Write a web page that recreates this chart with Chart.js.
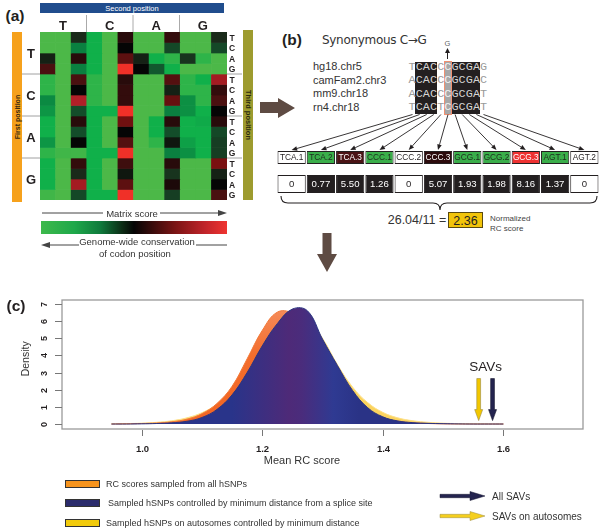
<!DOCTYPE html>
<html>
<head>
<meta charset="utf-8">
<title>RC score figure</title>
<script src="https://cdn.jsdelivr.net/npm/chart.js@4.4.1/dist/chart.umd.min.js"></script>
<style>
  html, body { margin: 0; padding: 0; background: #fff; }
  #fig { position: relative; width: 600px; height: 529px; overflow: hidden;
         font-family: "Liberation Sans", Arial, Helvetica, sans-serif; color: #231f20; }
  #fig canvas, #fig svg, #fig .t, #fig .b { position: absolute; }
  .t { white-space: nowrap; line-height: 1; }
  .b { box-sizing: border-box; }
  svg { pointer-events: none; }
</style>
</head>
<body>
<div id="fig">
  <canvas id="heat" width="187" height="168" style="left:40px;top:32px;width:187px;height:168px"></canvas>
  <canvas id="codons" width="322" height="42" style="left:277px;top:151px;width:322px;height:42px"></canvas>
  <canvas id="density" width="600" height="190" style="left:0;top:290px;width:600px;height:190px"></canvas>
</div>
<script>
"use strict";

// ---------- panel (a): codon position matrix ----------
var bases = ["T", "C", "A", "G"];
// matrix score 0 (green) .. 0.5 (black) .. 1 (red); rows = first x third position, cols = second position x codon position
var matrixScores = [
    [0.00, 0.00, 0.42, 0.10, 0.00, 0.56, 0.00, 0.00, 0.58, 0.00, 0.00, 0.42],
    [0.00, 0.00, 0.25, 0.10, 0.00, 0.50, 0.00, 0.00, 0.36, 0.00, 0.00, 0.36],
    [0.44, 0.00, 0.56, 0.10, 0.00, 0.66, 0.44, 0.10, 0.05, 0.40, 0.05, 0.00],
    [0.62, 0.00, 0.25, 0.10, 0.00, 1.00, 0.50, 0.33, 0.10, 0.00, 0.00, 0.00],
    [0.05, 0.00, 0.62, 0.05, 0.00, 0.56, 0.00, 0.00, 0.64, 0.05, 0.10, 0.82],
    [0.05, 0.00, 0.50, 0.05, 0.00, 0.58, 0.00, 0.00, 0.44, 0.05, 0.05, 0.58],
    [0.22, 0.00, 0.85, 0.05, 0.00, 0.58, 0.00, 0.00, 0.68, 0.20, 0.05, 0.62],
    [0.18, 0.00, 0.35, 0.10, 0.10, 1.00, 0.00, 0.00, 0.25, 0.20, 0.10, 0.50],
    [0.10, 0.00, 0.56, 0.10, 0.00, 0.70, 0.00, 0.10, 0.56, 0.10, 0.12, 0.56],
    [0.10, 0.00, 0.35, 0.10, 0.00, 0.50, 0.00, 0.10, 0.35, 0.10, 0.10, 0.36],
    [0.18, 0.00, 0.50, 0.10, 0.00, 0.64, 0.00, 0.05, 0.46, 0.15, 0.10, 0.38],
    [0.05, 0.02, 0.02, 0.10, 0.10, 1.00, 0.00, 0.00, 0.25, 0.20, 0.10, 0.38],
    [0.10, 0.00, 0.58, 0.10, 0.00, 0.60, 0.00, 0.00, 0.56, 0.00, 0.00, 0.72],
    [0.10, 0.00, 0.42, 0.10, 0.00, 0.46, 0.00, 0.00, 0.40, 0.00, 0.00, 0.44],
    [0.10, 0.00, 0.82, 0.10, 0.00, 0.66, 0.00, 0.00, 0.54, 0.00, 0.00, 0.50],
    [0.02, 0.00, 0.36, 0.10, 0.10, 1.00, 0.00, 0.00, 0.38, 0.00, 0.00, 0.62]
];

// ---------- panel (b): example SNP ----------
var species = ["hg18.chr5", "camFam2.chr3", "mm9.chr18", "rn4.chr18"];
var alignment = ["TCACCCGCGAG", "ACACCCGCGAC", "ACACCCGCGAT", "TCACTCGCGAT"];
var codonLabels = ["TCA.1", "TCA.2", "TCA.3", "CCC.1", "CCC.2", "CCC.3", "GCG.1", "GCG.2", "GCG.3", "AGT.1", "AGT.2"];
var codonScores = [0, 0.77, 5.50, 1.26, 0, 5.07, 1.93, 1.98, 8.16, 1.37, 0];
var codonFill = ["#ffffff", "#3aae4a", "#4a1315", "#3aae4a", "#ffffff", "#2c0b0c", "#3aae4a", "#3aae4a", "#ee3131", "#3aae4a", "#ffffff"];
var codonInk = ["#231f20", "#1e2a1e", "#ffffff", "#1e2a1e", "#231f20", "#ffffff", "#1e2a1e", "#1e2a1e", "#ffffff", "#1e2a1e", "#231f20"];

// ---------- panel (c): mean RC score densities ----------
var rcGrid = [0.95, 0.975, 1.0, 1.025, 1.05, 1.075, 1.1, 1.125, 1.15, 1.175, 1.2, 1.225, 1.25, 1.275,
              1.3, 1.325, 1.35, 1.375, 1.4, 1.425, 1.45, 1.475, 1.5, 1.525, 1.55, 1.575, 1.6];
var densAllSNPs = [0, 0.01, 0.03, 0.06, 0.13, 0.28, 0.6, 1.2, 2.2, 3.8, 5.45, 6.52, 6.45, 5.5,
                   4.0, 2.55, 1.45, 0.75, 0.36, 0.16, 0.07, 0.03, 0.01, 0, 0, 0, 0];
var densSpliceDist = [0, 0, 0.01, 0.03, 0.07, 0.16, 0.38, 0.85, 1.7, 3.0, 4.55, 5.85, 6.7, 6.6,
                      4.95, 3.4, 1.95, 0.95, 0.42, 0.18, 0.08, 0.04, 0.02, 0.008, 0, 0, 0];
var densAutosomes = [0.01, 0.025, 0.05, 0.1, 0.19, 0.36, 0.66, 1.15, 1.9, 3.0, 4.3, 5.5, 6.2, 6.1,
                     5.0, 3.45, 2.15, 1.25, 0.68, 0.36, 0.19, 0.1, 0.05, 0.025, 0.012, 0.006, 0.003];
var savMeans = [1.559, 1.582];          // SAVs on autosomes, all SAVs
var xTicks = [1.0, 1.2, 1.4, 1.6];
var yTicks = [0, 1, 2, 3, 4, 5, 6, 7];

var fig = document.getElementById("fig");
var FONT = "'Liberation Sans', Arial, sans-serif";

function addText(txt, x, y, css, anchor, rot) {
    var d = document.createElement("div");
    d.className = "t";
    d.textContent = txt;
    d.style.cssText = "left:" + x + "px;top:" + y + "px;" + (css || "");
    var tr = anchor === "start" ? "translate(0,-50%)" : "translate(-50%,-50%)";
    if (rot) tr += " rotate(" + rot + "deg)";
    d.style.transform = tr;
    fig.appendChild(d);
    return d;
}

function addBox(x, y, w, h, css) {
    var d = document.createElement("div");
    d.className = "b";
    d.style.cssText = "left:" + x + "px;top:" + y + "px;width:" + w + "px;height:" + h + "px;" + (css || "");
    fig.appendChild(d);
    return d;
}

// green - black - red ramp used by the matrix
var rampStops = [
    [0.00, [76, 184, 72]], [0.10, [16, 176, 74]], [0.25, [10, 128, 64]], [0.42, [26, 42, 26]],
    [0.50, [5, 5, 5]], [0.62, [74, 16, 16]], [0.72, [122, 16, 16]], [0.85, [176, 32, 40]], [1.00, [240, 48, 40]]
];
function rampColor(s) {
    for (var i = 1; i < rampStops.length; i++) {
        if (s <= rampStops[i][0]) {
            var a = rampStops[i - 1], b = rampStops[i];
            var f = (s - a[0]) / (b[0] - a[0]);
            var c = a[1].map(function (v, k) { return Math.round(v + (b[1][k] - v) * f); });
            return "rgb(" + c.join(",") + ")";
        }
    }
    return "rgb(240,48,40)";
}

// ---------- heatmap (stacked bars, one dataset per row) ----------
var heatColumns = [];
bases.forEach(function (b) { [1, 2, 3].forEach(function (k) { heatColumns.push(b + k); }); });

new Chart(document.getElementById("heat"), {
    type: "bar",
    data: {
        labels: heatColumns,
        datasets: matrixScores.map(function (row) {
            return { data: row.map(function () { return 1; }), backgroundColor: row.map(rampColor) };
        })
    },
    options: {
        responsive: false, animation: false, events: [],
        layout: { padding: 0 },
        plugins: { legend: { display: false }, tooltip: { enabled: false } },
        datasets: { bar: { barPercentage: 1, categoryPercentage: 1, borderWidth: 0 } },
        scales: {
            x: { display: false, stacked: true },
            y: { display: false, stacked: true, min: 0, max: 16, reverse: true }
        }
    }
});

// ---------- codon boxes (floating bars) ----------
var codonTextPlugin = {
    id: "codonText",
    afterDatasetsDraw: function (chart) {
        var ctx = chart.ctx;
        ctx.save();
        ctx.textAlign = "center";
        ctx.textBaseline = "middle";
        ctx.font = "8.3px " + FONT;
        chart.getDatasetMeta(0).data.forEach(function (bar, i) {
            ctx.fillStyle = codonInk[i];
            ctx.fillText(codonLabels[i], bar.x, (bar.y + bar.base) / 2 + 0.5);
        });
        ctx.font = "9.6px " + FONT;
        chart.getDatasetMeta(1).data.forEach(function (bar, i) {
            var v = codonScores[i];
            ctx.fillStyle = v === 0 ? "#231f20" : "#ffffff";
            ctx.fillText(v === 0 ? "0" : v.toFixed(2), bar.x, (bar.y + bar.base) / 2 + 0.5);
        });
        ctx.restore();
    }
};

var codonChart = new Chart(document.getElementById("codons"), {
    type: "bar",
    data: {
        labels: codonLabels,
        datasets: [
            { data: codonLabels.map(function () { return [0, 13]; }), backgroundColor: codonFill },
            { data: codonScores.map(function () { return [24, 42]; }),
              backgroundColor: codonScores.map(function (v) { return v === 0 ? "#ffffff" : "#231f20"; }) }
        ]
    },
    options: {
        responsive: false, animation: false, events: [],
        layout: { padding: 0 },
        plugins: { legend: { display: false }, tooltip: { enabled: false } },
        datasets: { bar: { barPercentage: 1, categoryPercentage: 0.965, grouped: false,
                           borderWidth: 1, borderColor: "#231f20", borderSkipped: false } },
        scales: {
            x: { display: false },
            y: { display: false, min: 0, max: 42, reverse: true }
        }
    },
    plugins: [codonTextPlugin]
});

// ---------- density chart ----------
var rAxesPlugin = {
    id: "rAxes",
    afterDraw: function (chart) {
        var ctx = chart.ctx, a = chart.chartArea, xs = chart.scales.x, ys = chart.scales.y;
        ctx.save();
        ctx.strokeStyle = "#9a9a9a";
        ctx.lineWidth = 1.3;
        ctx.strokeRect(a.left, a.top, a.right - a.left, a.bottom - a.top);

        ctx.strokeStyle = "#777";
        ctx.lineWidth = 1;
        ctx.fillStyle = "#231f20";
        ctx.font = "bold 9.5px " + FONT;
        ctx.textAlign = "center";
        ctx.textBaseline = "middle";
        xTicks.forEach(function (v) {
            var px = Math.round(xs.getPixelForValue(v)) + 0.5;
            ctx.beginPath(); ctx.moveTo(px, a.bottom + 1); ctx.lineTo(px, a.bottom + 7); ctx.stroke();
            ctx.fillText(v.toFixed(1), px, a.bottom + 20);
        });
        yTicks.forEach(function (v) {
            var py = Math.round(ys.getPixelForValue(v)) + 0.5;
            ctx.beginPath(); ctx.moveTo(a.left - 7, py); ctx.lineTo(a.left, py); ctx.stroke();
            ctx.save();
            ctx.translate(a.left - 17, py);
            ctx.rotate(-Math.PI / 2);
            ctx.font = "bold 9px " + FONT;
            ctx.fillText(String(v), 0, 0);
            ctx.restore();
        });

        // axis titles
        ctx.font = "11px " + FONT;
        ctx.fillStyle = "#333";
        ctx.fillText("Mean RC score", 302, a.bottom + 32);
        ctx.save();
        ctx.translate(26, ys.getPixelForValue(3.8));
        ctx.rotate(-Math.PI / 2);
        ctx.font = "10.5px " + FONT;
        ctx.fillText("Density", 0, 0);
        ctx.restore();

        // SAV arrows
        var top = ys.getPixelForValue(2.65), tip = ys.getPixelForValue(0.2);
        var fills = ["#f2c700", "#24244f"], strokes = ["#9a8a40", "#15152e"];
        savMeans.forEach(function (v, i) {
            var px = xs.getPixelForValue(v);
            ctx.beginPath();
            ctx.moveTo(px - 1.9, top);
            ctx.lineTo(px + 1.9, top);
            ctx.lineTo(px + 1.9, tip - 11);
            ctx.lineTo(px + 4, tip - 11);
            ctx.lineTo(px, tip);
            ctx.lineTo(px - 4, tip - 11);
            ctx.lineTo(px - 1.9, tip - 11);
            ctx.closePath();
            ctx.fillStyle = fills[i];
            ctx.fill();
            ctx.strokeStyle = strokes[i];
            ctx.lineWidth = 0.6;
            ctx.stroke();
        });
        ctx.font = "13.5px " + FONT;
        ctx.fillStyle = "#231f20";
        ctx.fillText("SAVs", (xs.getPixelForValue(savMeans[0]) + xs.getPixelForValue(savMeans[1])) / 2, top - 11);
        ctx.restore();
    }
};

function toPoints(ys) {
    return rcGrid.map(function (x, i) { return { x: x, y: ys[i] }; });
}

function blueFill(context) {
    var chart = context.chart;
    if (!chart.chartArea) return "#2b3480";
    var xs = chart.scales.x;
    var g = chart.ctx.createLinearGradient(xs.getPixelForValue(1.15), 0, xs.getPixelForValue(1.36), 0);
    g.addColorStop(0, "#29348a");
    g.addColorStop(0.45, "#4e2a78");
    g.addColorStop(0.55, "#4a2c7c");
    g.addColorStop(0.8, "#2f3a92");
    g.addColorStop(1, "#2a3386");
    return g;
}

function orangeFill(context) {
    var chart = context.chart;
    if (!chart.chartArea) return "#f26a28";
    var ys = chart.scales.y;
    var g = chart.ctx.createLinearGradient(0, ys.getPixelForValue(6.6), 0, ys.getPixelForValue(0));
    g.addColorStop(0, "#f58a58");
    g.addColorStop(0.4, "#f36d2c");
    g.addColorStop(1, "#f26522");
    return g;
}

new Chart(document.getElementById("density"), {
    type: "line",
    data: {
        datasets: [
            { label: "Sampled hSNPs controlled by minimum distance from a splice site",
              data: toPoints(densSpliceDist), backgroundColor: blueFill, borderColor: "#2b3480" },
            { label: "RC scores sampled from all hSNPs",
              data: toPoints(densAllSNPs), backgroundColor: orangeFill, borderColor: "#f27a3a" },
            { label: "Sampled hSNPs on autosomes controlled by minimum distance",
              data: toPoints(densAutosomes), backgroundColor: "#fbd35e", borderColor: "#fde08a" }
        ]
    },
    options: {
        responsive: false, animation: false, events: [],
        layout: { padding: { left: 62, right: 17, top: 10, bottom: 51 } },
        plugins: { legend: { display: false }, tooltip: { enabled: false } },
        datasets: { line: { fill: "origin", tension: 0.4, borderWidth: 1, pointRadius: 0 } },
        scales: {
            x: { type: "linear", display: false, min: 0.868, max: 1.732 },
            y: { type: "linear", display: false, min: -0.29, max: 7.23 }
        }
    },
    plugins: [rAxesPlugin]
});

// ---------- panel (a) labels ----------
addText("(a)", 15, 16, "font:bold 15.5px " + FONT + ";");
addBox(40, 3, 184, 10, "background:#204d8d;");
addText("Second position", 132, 8.3, "font:7.5px " + FONT + ";color:#fff;");
addBox(12, 32, 10, 170, "background:#f6a11c;");
addText("First position", 17, 117, "font:bold 7px " + FONT + ";color:#3a2a10;", "middle", -90);
addBox(243, 30, 9.5, 170, "background:#9d9b2f;");
addText("Third position", 247.8, 115, "font:bold 7.5px " + FONT + ";color:#2a2a10;", "middle", 90);
bases.forEach(function (b, i) {
    addText(b, 63 + 46.6 * i, 24.5, "font:bold 13px " + FONT + ";");
    addText(b, 31, 53 + 42 * i, "font:bold 13px " + FONT + ";");
});
for (var r = 0; r < 16; r++) {
    addText(bases[r % 4], 232, 37.5 + 10.5 * r, "font:bold 8.5px " + FONT + ";");
}
addText("Matrix score", 132, 213, "font:9.5px " + FONT + ";color:#333;");
addBox(41, 221, 186, 13, "background:linear-gradient(to right,#3db94b 0%,#1ea84a 18%,#0f7a3c 32%,#0c2a14 44%,#050505 50%,#3a0c0c 60%,#7a1414 72%,#c0242a 88%,#ef3431 100%);");
addText("Genome-wide conservation", 137, 241, "font:9.5px " + FONT + ";color:#333;");
addText("of codon position", 135, 253, "font:9.5px " + FONT + ";color:#333;");

// ---------- panel (b) labels ----------
addText("(b)", 292, 39.5, "font:bold 15.5px " + FONT + ";");
addText("Synonymous C\u2192G", 322, 40, "font:12px 'DejaVu Sans', " + FONT + ";color:#333;letter-spacing:-0.3px;", "start");
addText("G", 447.5, 43, "font:7.5px " + FONT + ";color:#666;");
species.forEach(function (s, i) {
    addText(s, 313, 66 + 13.6 * i, "font:11px " + FONT + ";color:#333;", "start");
});
addBox(415, 61.5, 22.3, 52.5, "background:#231f20;");
addBox(451.3, 61.5, 28.8, 52.5, "background:#231f20;");
addBox(443.6, 60.5, 8.6, 54, "background:#a7a7a7;border:1px solid #f09070;");
alignment.forEach(function (seq, r) {
    seq.split("").forEach(function (ch, i) {
        var boxed = (i >= 1 && i <= 3) || (i >= 6 && i <= 9);
        var col = i === 5 ? "#f2f2f2" : boxed ? "#d4d4d4" : "#9a9a9a";
        addText(ch, 408.5 + 7.15 * i + 3.6, 66.5 + 13.6 * r,
            "font:11.8px 'Liberation Mono', 'DejaVu Sans Mono', monospace;color:" + col + ";");
    });
});
var scoreSum = codonScores.reduce(function (s, v) { return s + v; }, 0);
var normScore = Math.floor(scoreSum / codonScores.length * 100) / 100;
addText(scoreSum.toFixed(2) + "/" + codonScores.length + " =", 417, 220, "font:12.5px " + FONT + ";color:#333;");
addBox(448, 212, 35, 16, "background:#f2c40a;border:1px solid #5a4a10;");
addText(normScore.toFixed(2), 465.5, 220.5, "font:12.5px " + FONT + ";color:#231f20;");
addText("Normalized", 490, 218, "font:8px " + FONT + ";color:#444;", "start");
addText("RC score", 490, 228, "font:8px " + FONT + ";color:#444;", "start");

// ---------- panel (c) labels and legend ----------
addText("(c)", 16, 306, "font:bold 15.5px " + FONT + ";");
var legendRows = [
    { fill: "#f7941d", text: "RC scores sampled from all hSNPs", y: 484, tx: 106 },
    { fill: "#2b2c6c", text: "Sampled hSNPs controlled by minimum distance from a splice site", y: 503, tx: 108 },
    { fill: "#f2cb0c", text: "Sampled hSNPs on autosomes controlled by minimum distance", y: 523, tx: 106 }
];
legendRows.forEach(function (l) {
    addBox(65, l.y - 4, 35, 8, "background:" + l.fill + ";border:1px solid #333;");
    addText(l.text, l.tx, l.y, "font:9px " + FONT + ";color:#333;", "start");
});
addText("All SAVs", 492, 496, "font:10px " + FONT + ";color:#333;", "start");
addText("SAVs on autosomes", 492, 516, "font:10px " + FONT + ";color:#333;", "start");

// ---------- connectors, arrows, brace (svg overlay) ----------
var svg = [];
svg.push('<svg width="600" height="529" viewBox="0 0 600 529" xmlns="http://www.w3.org/2000/svg" style="left:0;top:0">');
// column group separators and row group separators
[86.5, 133, 179.5].forEach(function (x) {
    svg.push('<line x1="' + x + '" y1="15" x2="' + x + '" y2="32" stroke="#aaa" stroke-width="1"/>');
});
[74, 116, 158].forEach(function (y) {
    svg.push('<line x1="22" y1="' + y + '" x2="40" y2="' + y + '" stroke="#888" stroke-width="0.8"/>');
    svg.push('<line x1="227" y1="' + y + '" x2="242" y2="' + y + '" stroke="#888" stroke-width="0.8"/>');
});
// matrix score arrow
svg.push('<line x1="42" y1="213" x2="103" y2="213" stroke="#444" stroke-width="1"/>');
svg.push('<line x1="160" y1="213" x2="220" y2="213" stroke="#444" stroke-width="1"/>');
svg.push('<polygon points="227,213 218,210 218,216" fill="#444"/>');
// conservation arrow
svg.push('<line x1="46" y1="245" x2="79" y2="245" stroke="#444" stroke-width="1"/>');
svg.push('<polygon points="41,245 50,242 50,248" fill="#444"/>');
svg.push('<line x1="196" y1="245" x2="227" y2="245" stroke="#444" stroke-width="1"/>');
// big brown arrows
svg.push('<polygon points="260,102 278,102 278,98 295,108 278,118 278,113 260,113" fill="#5e4b43"/>');
svg.push('<polygon points="322.5,233 331.5,233 331.5,254 337,254 327,272 317,254 322.5,254" fill="#5e4b43"/>');
// G arrow
svg.push('<line x1="447.5" y1="59" x2="447.5" y2="51" stroke="#231f20" stroke-width="1"/>');
svg.push('<polygon points="447.5,48 445,53 450,53" fill="#231f20"/>');
// fan lines to codon boxes
codonChart.getDatasetMeta(0).data.forEach(function (bar, i) {
    var x0 = 412.5 + 7.1 * i, y0 = 114.5;
    var x1 = 277 + bar.x, y1 = 150;
    var ang = Math.atan2(y1 - y0, x1 - x0);
    var hl = 5.5, hw = 2.3;
    var bx = x1 - hl * Math.cos(ang), by = y1 - hl * Math.sin(ang);
    var px = -Math.sin(ang) * hw, py = Math.cos(ang) * hw;
    svg.push('<line x1="' + x0 + '" y1="' + y0 + '" x2="' + bx.toFixed(1) + '" y2="' + by.toFixed(1) + '" stroke="#231f20" stroke-width="0.9"/>');
    svg.push('<polygon points="' + x1.toFixed(1) + ',' + y1 + ' ' + (bx + px).toFixed(1) + ',' + (by + py).toFixed(1) + ' ' +
             (bx - px).toFixed(1) + ',' + (by - py).toFixed(1) + '" fill="#231f20"/>');
});
// brace
svg.push('<path d="M281,196 Q281,203 288,203 L433,203 Q440,203 440,210 Q440,203 447,203 L590,203 Q597,203 597,196" fill="none" stroke="#231f20" stroke-width="1.1"/>');
// legend arrows
svg.push('<polygon points="440,494.3 470,494.3 470,491.5 485,496 470,500.5 470,497.7 440,497.7" fill="#24244f" stroke="#15152e" stroke-width="0.5"/>');
svg.push('<polygon points="440,514.3 470,514.3 470,511.5 485,516 470,520.5 470,517.7 440,517.7" fill="#f5cf1e" stroke="#9a8a40" stroke-width="0.5"/>');
svg.push('</svg>');
fig.insertAdjacentHTML("beforeend", svg.join(""));
</script>
</body>
</html>
